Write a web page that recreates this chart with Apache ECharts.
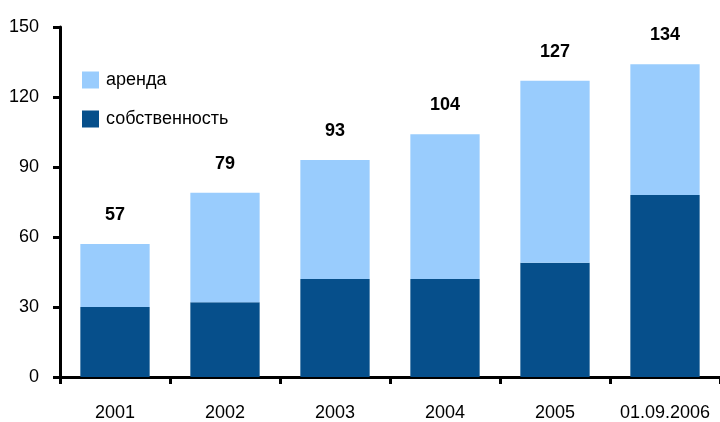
<!DOCTYPE html>
<html>
<head>
<meta charset="utf-8">
<script src="https://cdn.jsdelivr.net/npm/echarts@6/dist/echarts.min.js"></script>
<style>
  html, body { margin: 0; padding: 0; background: #fff; }
  #chart { width: 720px; height: 422px; }
</style>
</head>
<body>
<div id="chart"></div>
<script>
// categories and values
var years = ['2001', '2002', '2003', '2004', '2005', '01.09.2006'];
var own = [30, 32, 42, 42, 49, 78];      // собственность
var rent = [27, 47, 51, 62, 78, 56];     // аренда
var totals = [57, 79, 93, 104, 127, 134];

var font = '"Liberation Sans", Arial, sans-serif';
var chart = echarts.init(document.getElementById('chart'));

var option = {
  animation: false,
  grid: { left: 60, top: 27, width: 666, height: 350 },
  legend: {
    orient: 'vertical',
    left: 77, top: 66,
    itemWidth: 17, itemHeight: 17, itemGap: 21,
    icon: 'rect',
    data: ['аренда', 'собственность'],
    textStyle: { fontFamily: font, fontSize: 18, color: '#000', padding: [0, 0, 0, 2] }
  },
  xAxis: {
    type: 'category',
    data: years,
    axisLine: { lineStyle: { color: '#000', width: 3 } },
    axisTick: { show: true, length: 7, lineStyle: { color: '#000', width: 3 } },
    axisLabel: { interval: 0, fontFamily: font, fontSize: 18, color: '#000', margin: 27 }
  },
  yAxis: {
    type: 'value',
    min: 0, max: 150, interval: 30,
    axisLine: { show: true, lineStyle: { color: '#000', width: 3 } },
    axisTick: { show: true, length: 7, lineStyle: { color: '#000', width: 3 } },
    splitLine: { show: false },
    axisLabel: { fontFamily: font, fontSize: 18, color: '#000', margin: 21 }
  },
  series: [
    {
      name: 'собственность',
      type: 'bar',
      stack: 'total',
      barWidth: '63%',
      itemStyle: { color: '#064F8B' },
      data: own
    },
    {
      name: 'аренда',
      type: 'bar',
      stack: 'total',
      itemStyle: { color: '#99CCFD' },
      data: rent,
      label: {
        show: true,
        position: 'top',
        distance: 20,
        fontFamily: font,
        fontSize: 18,
        fontWeight: 'bold',
        color: '#000',
        formatter: function (p) { return totals[p.dataIndex]; }
      }
    }
  ]
};
chart.setOption(option);
</script>
</body>
</html>
